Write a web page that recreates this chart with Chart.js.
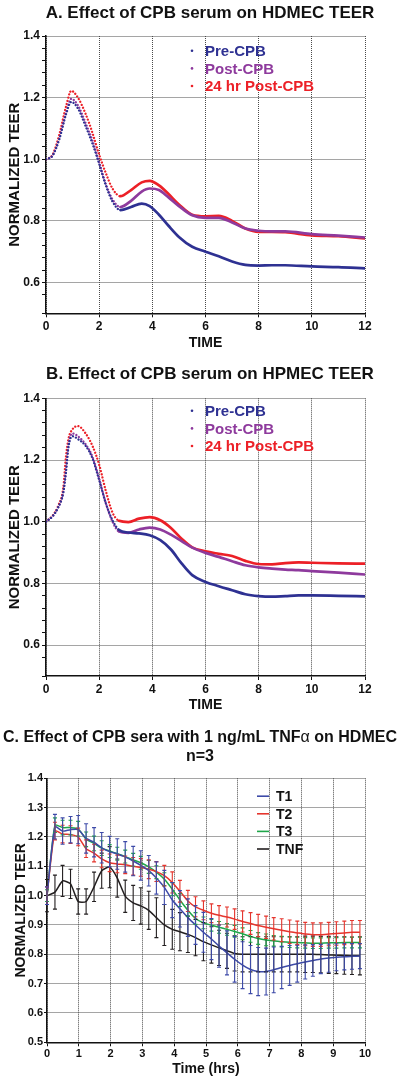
<!DOCTYPE html>
<html>
<head>
<meta charset="utf-8">
<script src="https://cdn.jsdelivr.net/npm/chart.js@4/dist/chart.umd.min.js"></script>
<style>
  body { margin: 0; background: #fff; }
  #page { position: relative; width: 400px; height: 1083px; overflow: hidden; font-family: "Liberation Sans", Arial, sans-serif; }
  .title { position: absolute; font-weight: bold; color: #111; text-align: center; white-space: nowrap; }
  canvas { position: absolute; left: 0; }
</style>
</head>
<body>
<div id="page">
  <canvas id="chartA" width="400" height="360" style="top:0"></canvas>
  <canvas id="chartB" width="400" height="380" style="top:340px"></canvas>
  <canvas id="chartC" width="400" height="323" style="top:760px"></canvas>
  <div class="title" style="top:2.5px;left:0;width:420px;font-size:17px;line-height:20px">A. Effect of CPB serum on HDMEC TEER</div>
  <div class="title" style="top:364px;left:0;width:420px;font-size:17px;line-height:20px">B. Effect of CPB serum on HPMEC TEER</div>
  <div class="title" style="top:727px;left:0;width:400px;font-size:16px;line-height:19px">C. Effect of CPB sera with 1 ng/mL TNF<span style="font-weight:normal">α</span> on HDMEC</div>
  <div class="title" style="top:746px;left:0;width:400px;font-size:16px;line-height:19px">n=3</div>
</div>
<script>
// ---- panel A: HDMEC TEER (time in hours) ----
const timeA = [0, 0.25, 0.5, 0.75, 0.95, 1.2, 1.5, 1.75, 2, 2.25, 2.5, 2.8, 3.2, 3.6, 3.9, 4.25, 4.6, 5, 5.5, 6, 6.5, 7, 7.5, 8, 8.5, 9, 10, 11, 12];
const preA = [1.0, 1.012, 1.065, 1.145, 1.186, 1.165, 1.105, 1.05, 0.985, 0.915, 0.863, 0.835, 0.845, 0.856, 0.848, 0.82, 0.785, 0.748, 0.716, 0.700, 0.685, 0.668, 0.657, 0.655, 0.656, 0.656, 0.652, 0.650, 0.646];
const postA = [1.0, 1.012, 1.068, 1.15, 1.196, 1.175, 1.115, 1.06, 0.99, 0.92, 0.87, 0.845, 0.865, 0.895, 0.905, 0.9, 0.877, 0.848, 0.818, 0.81, 0.81, 0.795, 0.775, 0.768, 0.766, 0.766, 0.757, 0.752, 0.746];
const post24A = [1.0, 1.015, 1.08, 1.17, 1.222, 1.2, 1.145, 1.085, 1.015, 0.955, 0.905, 0.88, 0.9, 0.925, 0.93, 0.915, 0.888, 0.853, 0.82, 0.815, 0.816, 0.8, 0.775, 0.764, 0.764, 0.763, 0.753, 0.75, 0.743];

// ---- panel B: HPMEC TEER ----
const timeB = [0, 0.25, 0.45, 0.65, 0.75, 0.85, 1.0, 1.2, 1.5, 1.75, 2, 2.25, 2.5, 2.75, 3.1, 3.5, 3.9, 4.3, 4.7, 5.1, 5.5, 6, 6.5, 7, 7.5, 8, 8.5, 9, 9.5, 10, 11, 12];
const preB = [1.0, 1.018, 1.045, 1.095, 1.16, 1.245, 1.277, 1.268, 1.245, 1.205, 1.135, 1.06, 1.005, 0.973, 0.965, 0.962, 0.956, 0.94, 0.91, 0.865, 0.827, 0.805, 0.791, 0.778, 0.765, 0.759, 0.757, 0.759, 0.761, 0.761, 0.76, 0.758];
const postB = [1.0, 1.018, 1.045, 1.095, 1.165, 1.252, 1.286, 1.277, 1.25, 1.21, 1.14, 1.06, 1.0, 0.968, 0.964, 0.975, 0.981, 0.975, 0.958, 0.937, 0.916, 0.899, 0.886, 0.872, 0.859, 0.852, 0.848, 0.845, 0.843, 0.84, 0.835, 0.829];
const post24B = [1.0, 1.02, 1.05, 1.11, 1.21, 1.27, 1.30, 1.31, 1.285, 1.245, 1.185, 1.1, 1.03, 1.003, 0.999, 1.01, 1.015, 1.005, 0.98, 0.945, 0.917, 0.904, 0.896, 0.889, 0.873, 0.863, 0.862, 0.866, 0.868, 0.867, 0.865, 0.864];

const serumLabels = ['Pre-CPB', 'Post-CPB', '24 hr Post-CPB'];
const serumColors = ['#2e3192', '#8e3a9d', '#ec2027'];

// ---- panel C: sera + 1 ng/mL TNFa, mean and error ----
const timeC = [0, 0.25, 0.49, 0.74, 0.98, 1.23, 1.48, 1.72, 1.97, 2.21, 2.46, 2.71, 2.95, 3.2, 3.44, 3.69, 3.94, 4.18, 4.43, 4.67, 4.92, 5.17, 5.41, 5.66, 5.9, 6.15, 6.4, 6.64, 6.89, 7.13, 7.38, 7.63, 7.87, 8.12, 8.36, 8.61, 8.86, 9.1, 9.35, 9.59, 9.84];
const t1 = [1.0, 1.235, 1.22, 1.225, 1.225, 1.195, 1.182, 1.163, 1.15, 1.142, 1.132, 1.118, 1.103, 1.085, 1.06, 1.028, 0.985, 0.955, 0.925, 0.9, 0.875, 0.852, 0.828, 0.805, 0.783, 0.763, 0.748, 0.741, 0.741, 0.747, 0.755, 0.762, 0.768, 0.774, 0.779, 0.784, 0.787, 0.79, 0.792, 0.793, 0.794];
const t1Err = [0.03, 0.042, 0.045, 0.045, 0.048, 0.05, 0.05, 0.052, 0.052, 0.052, 0.052, 0.05, 0.05, 0.052, 0.055, 0.058, 0.06, 0.062, 0.064, 0.066, 0.068, 0.07, 0.072, 0.075, 0.078, 0.08, 0.082, 0.082, 0.08, 0.078, 0.072, 0.068, 0.063, 0.058, 0.054, 0.05, 0.048, 0.046, 0.045, 0.044, 0.043];
const t2 = [1.0, 1.22, 1.21, 1.208, 1.2, 1.16, 1.145, 1.125, 1.112, 1.108, 1.105, 1.1, 1.096, 1.09, 1.082, 1.068, 1.045, 1.015, 0.982, 0.962, 0.95, 0.94, 0.933, 0.927, 0.92, 0.912, 0.905, 0.898, 0.892, 0.887, 0.882, 0.877, 0.873, 0.869, 0.867, 0.867, 0.869, 0.871, 0.873, 0.875, 0.875];
const t2Err = [0.03, 0.03, 0.03, 0.03, 0.03, 0.03, 0.03, 0.03, 0.03, 0.03, 0.03, 0.03, 0.03, 0.032, 0.034, 0.035, 0.036, 0.037, 0.036, 0.034, 0.032, 0.032, 0.033, 0.034, 0.035, 0.036, 0.037, 0.038, 0.038, 0.038, 0.039, 0.04, 0.04, 0.04, 0.04, 0.04, 0.04, 0.04, 0.04, 0.04, 0.04];
const t3 = [1.0, 1.24, 1.232, 1.232, 1.228, 1.192, 1.178, 1.162, 1.152, 1.143, 1.133, 1.122, 1.112, 1.098, 1.08, 1.056, 1.022, 0.985, 0.95, 0.922, 0.907, 0.899, 0.892, 0.885, 0.878, 0.87, 0.861, 0.854, 0.849, 0.846, 0.843, 0.841, 0.84, 0.839, 0.838, 0.838, 0.839, 0.839, 0.84, 0.84, 0.84];
const t3Err = [0.02, 0.025, 0.025, 0.025, 0.025, 0.025, 0.025, 0.025, 0.022, 0.022, 0.022, 0.022, 0.022, 0.022, 0.022, 0.022, 0.022, 0.022, 0.02, 0.02, 0.02, 0.02, 0.02, 0.02, 0.02, 0.02, 0.02, 0.02, 0.02, 0.018, 0.018, 0.018, 0.018, 0.018, 0.018, 0.018, 0.018, 0.018, 0.018, 0.018, 0.018];
const tnf = [1.0, 1.012, 1.05, 1.04, 0.98, 0.98, 1.03, 1.085, 1.097, 1.06, 0.998, 0.975, 0.965, 0.95, 0.925, 0.9, 0.885, 0.877, 0.868, 0.857, 0.843, 0.832, 0.822, 0.812, 0.803, 0.8, 0.8, 0.8, 0.8, 0.8, 0.8, 0.8, 0.8, 0.8, 0.8, 0.799, 0.798, 0.797, 0.796, 0.795, 0.795];
const tnfErr = [0.055, 0.058, 0.053, 0.05, 0.043, 0.043, 0.05, 0.06, 0.07, 0.065, 0.055, 0.06, 0.062, 0.065, 0.068, 0.07, 0.068, 0.065, 0.062, 0.062, 0.065, 0.062, 0.06, 0.06, 0.06, 0.06, 0.06, 0.06, 0.06, 0.06, 0.06, 0.06, 0.06, 0.062, 0.062, 0.062, 0.063, 0.063, 0.064, 0.064, 0.065];

const cLabels = ['T1', 'T2', 'T3', 'TNF'];
const cColors = ['#3d4aa8', '#e5352d', '#1fa64a', '#231f20'];

Chart.defaults.font.family = '"Liberation Sans", Arial, sans-serif';
Chart.defaults.color = '#111';
Chart.defaults.animation = false;

const GRID = '#4a4a4a';
const pts = (xs, ys) => xs.map((x, i) => ({ x: x, y: ys[i] }));

// legend with small dots, drawn inside the plot (panels A, B)
const dotLegend = {
  id: 'dotLegend',
  afterDraw(chart, args, opts) {
    if (!opts.show) return;
    const ctx = chart.ctx;
    ctx.save();
    ctx.font = 'bold 15px "Liberation Sans", Arial, sans-serif';
    chart.data.datasets.forEach((ds, i) => {
      const y = opts.y + i * opts.gap;
      ctx.fillStyle = ds.borderColor;
      ctx.beginPath();
      ctx.arc(opts.x, y, 1.3, 0, Math.PI * 2);
      ctx.fill();
      ctx.fillText(ds.label, opts.x + 13, y + 5.4);
    });
    ctx.restore();
  }
};

// legend with short line swatches (panel C)
const lineLegend = {
  id: 'lineLegend',
  afterDraw(chart, args, opts) {
    if (!opts.show) return;
    const ctx = chart.ctx;
    ctx.save();
    ctx.font = 'bold 14px "Liberation Sans", Arial, sans-serif';
    chart.data.datasets.forEach((ds, i) => {
      const y = opts.y + i * opts.gap;
      ctx.strokeStyle = ds.borderColor;
      ctx.lineWidth = 1.6;
      ctx.beginPath();
      ctx.moveTo(opts.x, y);
      ctx.lineTo(opts.x + 12, y);
      ctx.stroke();
      ctx.fillStyle = '#111';
      ctx.fillText(ds.label, opts.x + 19, y + 5);
    });
    ctx.restore();
  }
};

// vertical error bars with caps (panel C)
const errorBars = {
  id: 'errorBars',
  afterDatasetsDraw(chart, args, opts) {
    if (!opts.show) return;
    const { ctx, scales: { x, y } } = chart;
    ctx.save();
    ctx.lineWidth = 1.1;
    for (let i = chart.data.datasets.length - 1; i >= 0; i--) {
      const ds = chart.data.datasets[i];
      ctx.strokeStyle = ds.borderColor;
      ds.data.forEach((p, j) => {
        const e = ds.errors[j];
        const px = x.getPixelForValue(p.x);
        const top = y.getPixelForValue(p.y + e);
        const bot = y.getPixelForValue(p.y - e);
        ctx.beginPath();
        ctx.moveTo(px, top); ctx.lineTo(px, bot);
        ctx.moveTo(px - 2, top); ctx.lineTo(px + 2, top);
        ctx.moveTo(px - 2, bot); ctx.lineTo(px + 2, bot);
        ctx.stroke();
      });
    }
    ctx.restore();
  }
};

Chart.register(dotLegend, lineLegend, errorBars);

function serumChart(id, times, series, dottedUntil, opts) {
  return new Chart(document.getElementById(id), {
    type: 'line',
    data: {
      datasets: series.map((vals, i) => ({
        label: serumLabels[i],
        data: pts(times, vals),
        borderColor: serumColors[i],
        backgroundColor: serumColors[i],
        borderWidth: 2.7,
        borderCapStyle: 'round',
        borderDash: [],
        pointRadius: 0,
        cubicInterpolationMode: 'monotone',
        segment: {
          borderDash: c => c.p1.parsed.x <= dottedUntil ? [0.01, 3.2] : undefined,
          borderWidth: c => c.p1.parsed.x <= dottedUntil ? 2.3 : undefined
        }
      }))
    },
    options: {
      responsive: false,
      maintainAspectRatio: false,
      layout: { padding: { top: opts.padTop, right: 35, left: 0, bottom: 0 } },
      plugins: {
        legend: { display: false },
        tooltip: { enabled: false },
        dotLegend: { show: true, x: 192, y: opts.legendY, gap: 17.6 },
        lineLegend: { show: false },
        errorBars: { show: false }
      },
      scales: {
        x: {
          type: 'linear', min: 0, max: 12,
          ticks: { stepSize: 2, padding: 2, font: { size: 12, weight: 'bold' }, color: '#111' },
          grid: { color: GRID, lineWidth: 1, tickColor: '#111', tickLength: 4 },
          border: { display: true, color: '#111', width: 1.5, dash: [1, 1] },
          title: { display: true, text: 'TIME', font: { size: 14, weight: 'bold' }, color: '#111', padding: { top: 0, bottom: opts.xTitlePad } },
          afterFit: s => { s.height = opts.xAxisH; }
        },
        y: {
          min: 0.5, max: 1.4,
          ticks: {
            stepSize: 0.04, autoSkip: false, padding: 2,
            font: { size: 12, weight: 'bold' }, color: '#111',
            callback: v => (Math.abs(v * 5 - Math.round(v * 5)) < 1e-6 && v > 0.55) ? v.toFixed(1) : ''
          },
          grid: {
            color: c => (Math.abs(c.tick.value * 5 - Math.round(c.tick.value * 5)) < 1e-6) ? GRID : 'rgba(0,0,0,0)',
            lineWidth: 1, tickColor: '#111', tickLength: 4
          },
          border: { display: true, color: '#111', width: 1.5, dash: [1, 1] },
          title: { display: true, text: 'NORMALIZED TEER', font: { size: 15, weight: 'bold' }, color: '#111', padding: { top: 6, bottom: 0 } },
          afterFit: s => { s.width = 46; }
        }
      }
    }
  });
}

serumChart('chartA', timeA, [preA, postA, post24A], 2.8,
  { padTop: 36, legendY: 50.8, xAxisH: 46.7, xTitlePad: 8.3 });
serumChart('chartB', timeB, [preB, postB, post24B], 2.75,
  { padTop: 58.3, legendY: 70.8, xAxisH: 44, xTitlePad: 6.6 });

const cSeries = [[t1, t1Err], [t2, t2Err], [t3, t3Err], [tnf, tnfErr]];

new Chart(document.getElementById('chartC'), {
  type: 'line',
  data: {
    datasets: cSeries.map(([vals, errs], i) => ({
      label: cLabels[i],
      data: pts(timeC, vals),
      errors: errs,
      borderColor: cColors[i],
      backgroundColor: cColors[i],
      borderWidth: 1.5,
      pointRadius: 0,
      tension: 0.2
    }))
  },
  options: {
    responsive: false,
    maintainAspectRatio: false,
    layout: { padding: { top: 18.3, right: 35, left: 0, bottom: 0 } },
    plugins: {
      legend: { display: false },
      tooltip: { enabled: false },
      dotLegend: { show: false },
      lineLegend: { show: true, x: 257, y: 36.2, gap: 17.6 },
      errorBars: { show: true }
    },
    scales: {
      x: {
        type: 'linear', min: 0, max: 10,
        ticks: { stepSize: 1, padding: 1, font: { size: 11, weight: 'bold' }, color: '#111' },
        grid: { color: GRID, lineWidth: 1, tickColor: '#111', tickLength: 4 },
        border: { display: true, color: '#111', width: 1.5, dash: [1, 1] },
        title: { display: true, text: 'Time (hrs)', font: { size: 14, weight: 'bold' }, color: '#111', padding: { top: 0, bottom: 5.6 } },
        afterFit: s => { s.height = 40.7; }
      },
      y: {
        min: 0.5, max: 1.4,
        ticks: { stepSize: 0.1, autoSkip: false, padding: 1, font: { size: 11, weight: 'bold' }, color: '#111', callback: v => v.toFixed(1) },
        grid: { color: GRID, lineWidth: 1, tickColor: '#111', tickLength: 3 },
        border: { display: true, color: '#111', width: 1.5, dash: [1, 1] },
        title: { display: true, text: 'NORMALIZED TEER', font: { size: 14, weight: 'bold' }, color: '#111', padding: { top: 13, bottom: 0 } },
        afterFit: s => { s.width = 47; }
      }
    }
  }
});
</script>
</body>
</html>
